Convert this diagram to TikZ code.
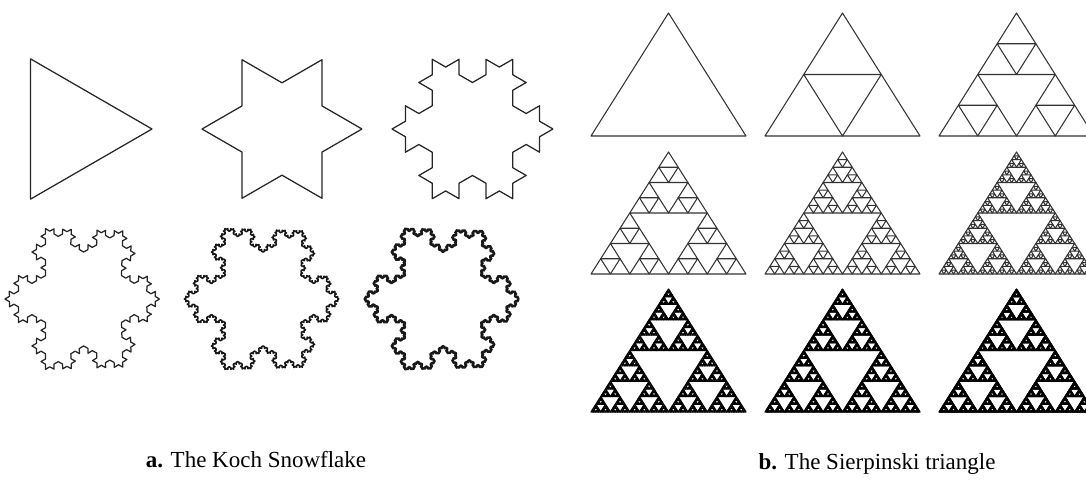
\documentclass[tikz,border=0pt]{standalone}
\usepackage{fontspec}
\setmainfont{Liberation Serif}
\usetikzlibrary{decorations.fractals}

% recursive Sierpinski holes: level, x, y (base, y up), width, height
\newcommand\sierhole[5]{%
  \ifnum#1>0
    \pgfpathmoveto{\pgfpoint{\dimexpr#2+#4/4\relax}{\dimexpr#3+#5/2\relax}}%
    \pgfpathlineto{\pgfpoint{\dimexpr#2+#4*3/4\relax}{\dimexpr#3+#5/2\relax}}%
    \pgfpathlineto{\pgfpoint{\dimexpr#2+#4/2\relax}{#3}}%
    \pgfpathclose
    \pgfusepath{stroke}%
    \edef\sierNext{%
      \noexpand\sierhole{\the\numexpr#1-1\relax}{#2}{#3}{\the\dimexpr#4/2\relax}{\the\dimexpr#5/2\relax}%
      \noexpand\sierhole{\the\numexpr#1-1\relax}{\the\dimexpr#2+#4/2\relax}{#3}{\the\dimexpr#4/2\relax}{\the\dimexpr#5/2\relax}%
      \noexpand\sierhole{\the\numexpr#1-1\relax}{\the\dimexpr#2+#4/4\relax}{\the\dimexpr#3+#5/2\relax}{\the\dimexpr#4/2\relax}{\the\dimexpr#5/2\relax}}%
    \expandafter\sierNext
  \fi}

% level, x of left corner, y of base (pixels, down), height
\newcommand\sierpinski[4]{%
  \pgfpathmoveto{\pgfpoint{#2pt}{-#3pt}}%
  \pgfpathlineto{\pgfpoint{\dimexpr#2pt+155pt\relax}{-#3pt}}%
  \pgfpathlineto{\pgfpoint{\dimexpr#2pt+77.5pt\relax}{\dimexpr-#3pt+#4pt\relax}}%
  \pgfpathclose
  \pgfusepath{stroke}%
  \sierhole{#1}{#2pt}{-#3pt}{155pt}{#4pt}}

\begin{document}
\begin{tikzpicture}[x=1pt,y=-1pt,
  koch/.style={draw=black!85,line width=1.25pt,line join=round},
  kochbold/.style={draw=black!90,line width=1.6pt,line join=round},
  sier/.style={color=black!80,line width=1.05pt,line join=round},
  sierdark/.style={color=black,line width=1.2pt,line join=round},
  caption/.style={anchor=base,font=\fontsize{23}{28}\selectfont}]
\useasboundingbox[fill=white] (0,0) rectangle (1086,479);

% ---------- Koch snowflake, row 1 ----------
\begin{scope}[shift={(71,129)},x=1pt,y=1pt]
  \draw[koch] (0:81) -- (-120:81) -- (120:81) -- cycle;
\end{scope}
\begin{scope}[shift={(282,129)},x=1pt,y=1pt,decoration=Koch snowflake]
  \draw[koch] decorate{ (0:80) -- (-120:80) -- (120:80) -- (0:80) };
\end{scope}
\begin{scope}[shift={(472.5,129)},x=1pt,y=1pt,decoration=Koch snowflake]
  \draw[koch] decorate{ decorate{ (0:80.5) -- (-120:80.5) -- (120:80.5) -- (0:80.5) }};
\end{scope}

% ---------- Koch snowflake, row 2 ----------
\begin{scope}[shift={(83.5,299)},x=1pt,y=1.07pt,decoration=Koch snowflake]
  \draw[koch] decorate{ decorate{ decorate{ (0:76) -- (-120:76) -- (120:76) -- (0:76) }}};
\end{scope}
\begin{scope}[shift={(263,299)},x=1pt,y=1.07pt,decoration=Koch snowflake]
  \draw[kochbold] decorate{ decorate{ decorate{ decorate{ (0:76) -- (-120:76) -- (120:76) -- (0:76) }}}};
\end{scope}
\begin{scope}[shift={(443,299)},x=1pt,y=1.07pt,decoration=Koch snowflake]
  \draw[kochbold,line width=2pt] decorate{ decorate{ decorate{ decorate{ decorate{ (0:76) -- (-120:76) -- (120:76) -- (0:76) }}}}};
\end{scope}

% ---------- Sierpinski triangles ----------
\begin{scope}[sier]
  \sierpinski{0}{591}{136}{123}
  \sierpinski{1}{765}{136}{123}
  \sierpinski{2}{939}{136}{123}
  \sierpinski{3}{591}{274}{122}
  \sierpinski{4}{765}{274}{122}
  \sierpinski{5}{939}{274}{122}
\end{scope}
\begin{scope}[sierdark]
  \sierpinski{6}{591}{412}{123}
  \sierpinski{7}{765}{412}{123}
  \sierpinski{8}{939}{412}{123}
\end{scope}

% ---------- captions ----------
\node[caption] (capa) at (256,467) {\textbf{a.} The Koch Snowflake};
\node[caption] (capb) at (877,469) {\textbf{b.} The Sierpinski triangle};
\end{tikzpicture}
\end{document}
